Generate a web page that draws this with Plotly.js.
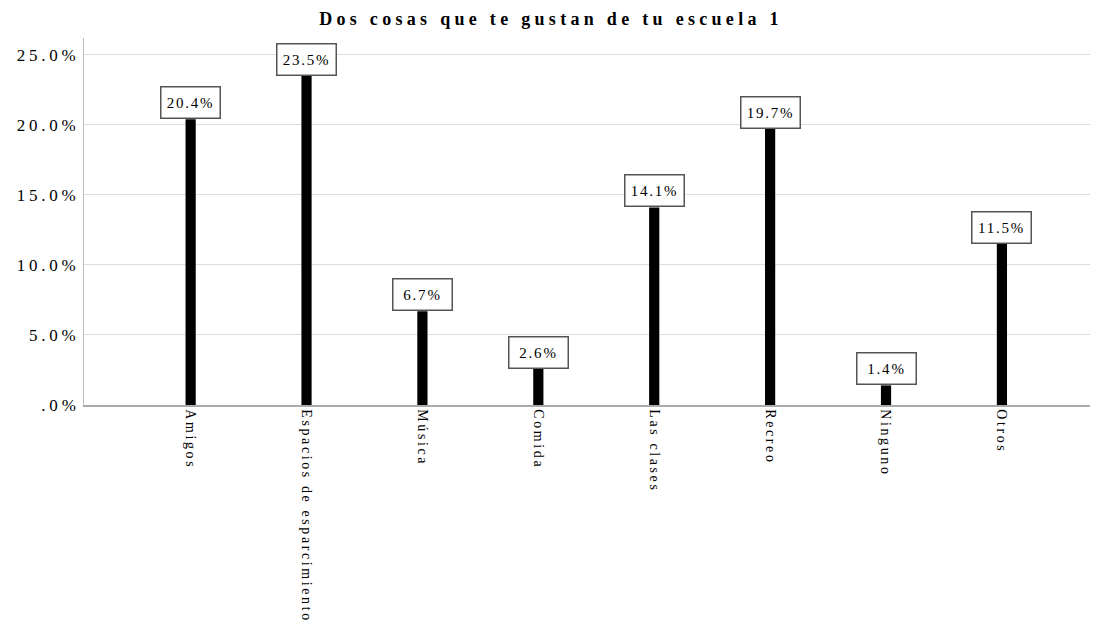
<!DOCTYPE html>
<html>
<head>
<meta charset="utf-8">
<script src="https://cdn.plot.ly/plotly-3.0.1.min.js"></script>
<style>
html,body{margin:0;padding:0;background:#fff;}
#chart{width:1102px;height:624px;}
#chart .xtick text{letter-spacing:2.6px;}
#chart .ytick text{letter-spacing:3.8px;}
#chart .gtitle{letter-spacing:4.3px;}
#chart .annotation-text{letter-spacing:1.8px;}
</style>
</head>
<body>
<div id="chart"></div>
<script>
const categories = ["Amigos", "Espacios de esparcimiento", "Música", "Comida", "Las clases", "Recreo", "Ninguno", "Otros"];
const values = [20.4, 23.5, 6.7, 2.6, 14.1, 19.7, 1.4, 11.5];
const yTickVals = [0, 5, 10, 15, 20, 25];
const yTickText = [".0%", "5.0%", "10.0%", "15.0%", "20.0%", "25.0%"];

const serif = "Liberation Serif, Times New Roman, serif";

const trace = {
  type: "bar",
  x: categories,
  y: values,
  width: 0.088,
  marker: {color: "#000000", line: {width: 0}},
  hoverinfo: "none"
};

const annotations = categories.map((c, i) => ({
  x: c,
  y: values[i],
  xref: "x",
  yref: "y",
  text: values[i].toFixed(1) + "%",
  showarrow: false,
  yanchor: "bottom",
  xanchor: "center",
  width: 54,
  height: 26,
  align: "center",
  valign: "middle",
  bgcolor: "#ffffff",
  bordercolor: "#555555",
  borderwidth: 1.5,
  borderpad: 2,
  font: {family: serif, size: 15, color: "#000"}
}));

const layout = {
  width: 1102,
  height: 624,
  margin: {l: 84, r: 12, t: 38, b: 219},
  paper_bgcolor: "#ffffff",
  plot_bgcolor: "#ffffff",
  title: {
    text: "<b>Dos cosas que te gustan de tu escuela 1</b>",
    font: {family: serif, size: 18, color: "#000"},
    x: 0.5, xanchor: "center", y: 0.97, yanchor: "middle"
  },
  showlegend: false,
  xaxis: {
    type: "category",
    range: [-0.92, 7.76],
    tickangle: 90,
    tickfont: {family: serif, size: 14, color: "#000"},
    showgrid: false,
    showline: true,
    linecolor: "#aaaaaa",
    linewidth: 1.5,
    ticks: "",
    zeroline: false
  },
  yaxis: {
    range: [0, 26.2],
    tickvals: yTickVals,
    ticktext: yTickText,
    tickfont: {family: serif, size: 17, color: "#000"},
    showgrid: true,
    gridcolor: "#dddddd",
    gridwidth: 1,
    showline: true,
    linecolor: "#bbbbbb",
    linewidth: 1,
    ticks: "",
    ticklen: 0,
    zeroline: false
  },
  annotations: annotations
};

Plotly.newPlot("chart", [trace], layout, {displayModeBar: false, staticPlot: true});
</script>
</body>
</html>
